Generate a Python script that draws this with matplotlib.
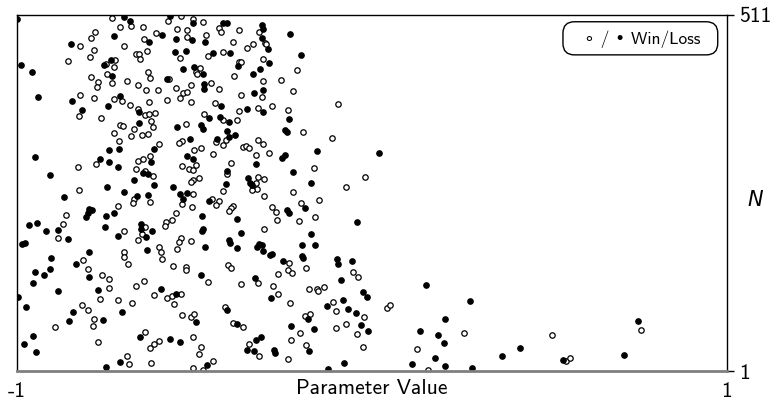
import matplotlib
matplotlib.use("Agg")
import matplotlib.pyplot as plt
from matplotlib.patches import FancyBboxPatch

plt.rcParams['font.family'] = ['cmss10', 'DejaVu Sans']
plt.rcParams['axes.unicode_minus'] = False

# open circles: wins (parameter value, N)
win_x = [
    -0.733, -0.710, -0.679, -0.646, -0.575, -0.780, -0.792, -0.609, -0.641, -0.822,
    -0.700, -0.784, -0.633, -0.666, -0.655, -0.654, -0.794, -0.855, -0.724, -0.750,
    -0.728, -0.746, -0.630, -0.624, -0.791, -0.771, -0.774, -0.732, -0.691, -0.660,
    -0.637, -0.604, -0.573, -0.823, -0.782, -0.726, -0.705, -0.682, -0.629, -0.578,
    -0.826, -0.658, -0.639, -0.627, -0.610, -0.764, -0.622, -0.709, -0.702,
    -0.538, -0.505, -0.477, -0.550, -0.522, -0.430, -0.426, -0.374, -0.317, -0.522,
    -0.468, -0.392, -0.352, -0.334, -0.301, -0.299, -0.541, -0.462, -0.421, -0.308,
    -0.375, -0.370, -0.496, -0.485, -0.492, -0.389, -0.210, -0.308, -0.256, -0.553,
    -0.511, -0.454, -0.430, -0.533, -0.520, -0.541, -0.509, -0.370, -0.311, -0.222,
    -0.443, -0.283, -0.320, -0.376, -0.236, -0.472, -0.419, -0.381, -0.524,
    -0.097,
    -0.670, -0.618, -0.726, -0.679, -0.647, -0.630, -0.713, -0.600, -0.777, -0.658,
    -0.645, -0.625, -0.827, -0.666, -0.639, -0.617, -0.825, -0.670, -0.673, -0.624,
    -0.716, -0.863, -0.871, -0.885, -0.699, -0.639, -0.649, -0.660, -0.580, -0.583,
    -0.564,
    -0.440, -0.419, -0.411, -0.195, -0.535, -0.543, -0.320, -0.306, -0.364, -0.355,
    -0.346, -0.501, -0.481, -0.447, -0.327, -0.289, -0.535, -0.516, -0.503, -0.496,
    -0.398, -0.163, -0.408, -0.486, -0.505, -0.511, -0.322, -0.304, -0.327, -0.325,
    -0.338, -0.421, -0.505, -0.535, -0.304, -0.223, -0.150, -0.452, -0.432, -0.439,
    -0.391, -0.398, -0.402, -0.506, -0.282, -0.270, -0.267, -0.199, -0.552, -0.205,
    -0.160, -0.304, -0.539, -0.543, -0.510,
    -0.112, -0.020, -0.074,
    -0.813, -0.700, -0.698, -0.688, -0.600, -0.595, -0.592, -0.801, -0.761, -0.740,
    -0.740, -0.765, -0.716, -0.677, -0.666, -0.643, -0.614, -0.577, -0.564, -0.818,
    -0.799, -0.782, -0.785, -0.893, -0.773, -0.639, -0.600, -0.613, -0.626, -0.689,
    -0.684, -0.623,
    -0.548, -0.561, -0.524, -0.524, -0.405, -0.396, -0.235, -0.237, -0.226, -0.187,
    -0.266, -0.461, -0.320, -0.368, -0.278, -0.264, -0.177, -0.156, -0.151, -0.135,
    -0.537, -0.557, -0.413, -0.535, -0.511, -0.502, -0.391, -0.362, -0.231, -0.189,
    -0.175, -0.203, -0.505, -0.483, -0.488, -0.347, -0.317, -0.229, -0.186, -0.238,
    -0.447, -0.475, -0.505,
    -0.054, -0.039, -0.109, -0.100, -0.023, -0.074, -0.100, -0.042, -0.024, 0.041,
    0.052, 0.259, 0.128, 0.157,
    0.506, 0.546, 0.559, 0.758,
]
win_n = [
    506, 494, 495, 494, 502, 487, 478, 485, 476, 467,
    466, 461, 460, 455, 455, 448, 451, 445, 446, 441,
    437, 427, 430, 421, 422, 415, 408, 414, 416, 411,
    404, 403, 420, 396, 392, 390, 388, 382, 386, 389,
    366, 377, 368, 369, 371, 363, 359, 354, 352,
    509, 505, 501, 491, 489, 493, 487, 490, 486, 480,
    482, 472, 464, 469, 471, 469, 450, 452, 458, 448,
    444, 443, 430, 435, 427, 424, 432, 417, 418, 407,
    410, 413, 405, 399, 400, 392, 386, 397, 393, 402,
    385, 380, 378, 374, 375, 369, 361, 360, 355,
    383,
    348, 350, 342, 338, 339, 341, 330, 326, 297, 302,
    305, 309, 293, 290, 288, 281, 261, 248, 242, 243,
    238, 224, 212, 192, 202, 208, 197, 189, 215, 209,
    218,
    329, 325, 332, 343, 330, 328, 332, 326, 322, 323,
    321, 318, 321, 312, 310, 314, 295, 290, 289, 296,
    299, 292, 283, 278, 274, 272, 279, 276, 271, 262,
    260, 259, 254, 240, 252, 257, 246, 247, 245, 239,
    237, 234, 230, 236, 236, 229, 217, 241, 228, 216,
    221, 205, 192, 186, 187,
    335, 279, 264,
    160, 172, 165, 155, 178, 172, 161, 147, 138, 133,
    120, 104, 102, 98, 123, 130, 110, 105, 109, 95,
    88, 76, 65, 64, 43, 57, 44, 39, 34, 22,
    11, 12,
    176, 151, 150, 145, 153, 149, 156, 145, 142, 148,
    140, 129, 127, 126, 123, 112, 118, 119, 115, 122,
    111, 97, 92, 81, 78, 83, 70, 64, 99, 80,
    82, 55, 50, 36, 25, 39, 23, 45, 38, 18,
    15, 3, 5,
    143, 136, 100, 87, 79, 69, 62, 54, 35, 91,
    96, 56, 32, 3,
    53, 16, 20, 60,
]

# filled circles: losses (parameter value, N)
loss_x = [
    -1.000, -0.700, -0.682, -0.569, -0.726, -0.592, -0.627, -0.849, -0.736, -0.756,
    -0.989, -0.959, -0.732, -0.578, -0.942, -0.844, -0.710, -0.818, -0.744, -0.655,
    -0.656,
    -0.503, -0.419, -0.408, -0.311, -0.308, -0.231, -0.552, -0.507, -0.470, -0.311,
    -0.292, -0.556, -0.525, -0.447, -0.399, -0.201, -0.377, -0.289, -0.533, -0.501,
    -0.476, -0.315, -0.334, -0.473, -0.474, -0.332, -0.308, -0.425, -0.353, -0.308,
    -0.458, -0.428, -0.404, -0.233, -0.548, -0.481,
    -0.740, -0.712, -0.614, -0.949, -0.765, -0.740, -0.623, -0.716, -0.644, -0.630,
    -0.907, -0.670, -0.613, -0.746, -0.698, -0.867, -0.662, -0.632, -0.797, -0.790,
    -0.801, -0.806, -0.727, -0.750, -0.752, -0.966, -0.945, -0.919, -0.885, -0.855,
    -0.715, -0.651, -0.652, -0.621, -0.636, -0.987, -0.977,
    -0.475, -0.408, -0.386, -0.402, -0.436, -0.245, -0.240, -0.513, -0.156, -0.245,
    -0.254, -0.522, -0.503, -0.327, -0.409, -0.222, -0.348, -0.344, -0.338, -0.411,
    -0.560, -0.172, -0.541, -0.522, -0.531, -0.458, -0.240, -0.235, -0.188, -0.480,
    -0.379, -0.480, -0.475, -0.369, -0.172, -0.404, -0.400, -0.471, -0.317, -0.311,
    -0.198, -0.161,
    0.020, -0.043,
    -0.797, -0.834, -0.904, -0.633, -0.797, -0.949, -0.923, -0.906, -0.955, -0.885,
    -0.771, -0.594, -0.998, -0.975, -0.841, -0.853, -0.757, -0.703, -0.954, -0.979,
    -0.946, -0.653, -0.569, -0.710, -0.749,
    -0.381, -0.323, -0.308, -0.287, -0.282, -0.197, -0.195, -0.250, -0.482, -0.330,
    -0.285, -0.552, -0.408, -0.495, -0.381, -0.128, -0.181, -0.229, -0.163, -0.541,
    -0.327, -0.312, -0.353, -0.332, -0.276, -0.274, -0.177, -0.464,
    -0.099, -0.097, -0.055, -0.088, -0.026, -0.014, -0.082, -0.068, -0.046, -0.031,
    -0.010, 0.153, 0.277, 0.207, 0.134, 0.187, 0.204, 0.177, 0.114, 0.207,
    0.282, -0.078, -0.123,
    0.367, 0.417, 0.537, 0.711, 0.750,
]
loss_n = [
    505, 508, 503, 509, 481, 482, 473, 469, 447, 440,
    439, 429, 424, 419, 394, 388, 395, 375, 380, 372,
    356,
    499, 500, 499, 497, 491, 484, 477, 475, 472, 478,
    462, 458, 460, 457, 456, 453, 438, 442, 433, 436,
    426, 434, 426, 412, 405, 399, 403, 381, 376, 372,
    363, 365, 357, 362, 351, 353,
    317, 319, 319, 308, 304, 300, 300, 293, 284, 283,
    282, 275, 267, 264, 258, 250, 251, 253, 233, 232,
    228, 221, 227, 223, 208, 210, 213, 201, 203, 190,
    194, 211, 205, 202, 193, 183, 184,
    348, 345, 339, 336, 333, 346, 344, 333, 316, 310,
    306, 309, 305, 298, 288, 286, 277, 270, 267, 269,
    265, 271, 255, 256, 248, 244, 232, 228, 234, 223,
    219, 202, 204, 198, 197, 189, 185, 179, 183, 181,
    181, 182,
    314, 215,
    171, 154, 163, 174, 136, 143, 139, 147, 127, 116,
    117, 118, 107, 93, 85, 73, 74, 86, 51, 40,
    28, 49, 47, 14, 7,
    177, 178, 173, 167, 169, 166, 163, 159, 139, 134,
    106, 112, 89, 71, 68, 94, 76, 66, 61, 42,
    45, 49, 31, 29, 31, 27, 29, 10,
    162, 154, 158, 132, 114, 107, 103, 90, 84, 67,
    59, 124, 101, 75, 58, 52, 41, 19, 11, 8,
    6, 13, 4,
    22, 34, 17, 24, 72,
]

fig = plt.figure(figsize=(7.77, 4.03), dpi=100)
ax = fig.add_axes([0.0219, 0.0794, 0.9137, 0.8834])

ax.plot(win_x, win_n, 'o', ms=3.9, mfc='white', mec='black', mew=0.9, ls='none')
ax.plot(loss_x, loss_n, 'o', ms=3.9, mfc='black', mec='black', mew=0.9, ls='none')

ax.set_xlim(-1, 1)
ax.set_ylim(1, 511)

# spines: plain black frame, grey baseline
for side in ('top', 'left', 'right'):
    ax.spines[side].set_color('black')
    ax.spines[side].set_linewidth(1.0)
ax.spines['bottom'].set_color('#7f7f7f')
ax.spines['bottom'].set_linewidth(2.0)

ax.set_xticks([-1, 1])
ax.set_xticklabels(['-1', '1'])
ax.tick_params(axis='x', length=0, pad=8, labelsize=15.5)

ax.yaxis.tick_right()
ax.set_yticks([1, 511])
ax.tick_params(axis='y', length=5, width=1.0, pad=4, labelsize=15.5)

ax.set_xlabel('Parameter Value', fontsize=15.5)
ax.xaxis.set_label_coords(0.5, -0.022)

ax.yaxis.set_label_position('right')
ax.set_ylabel('N', rotation=0, fontsize=15, family='DejaVu Sans', style='italic',
              va='center', ha='left')
ax.yaxis.set_label_coords(1.029, 0.48)

# legend box
box = FancyBboxPatch((0.769, 0.888), 0.218, 0.093, transform=ax.transAxes,
                     boxstyle='round,pad=0,rounding_size=0.016',
                     mutation_aspect=2.0, fc='white', ec='black', lw=1.0,
                     zorder=5)
ax.add_patch(box)
ax.text(0.880, 0.932, '\u2218 / \u2022 Win/Loss', transform=ax.transAxes,
        ha='center', va='center', fontsize=12.5, zorder=6)

fig.savefig('out.png', dpi=100)
